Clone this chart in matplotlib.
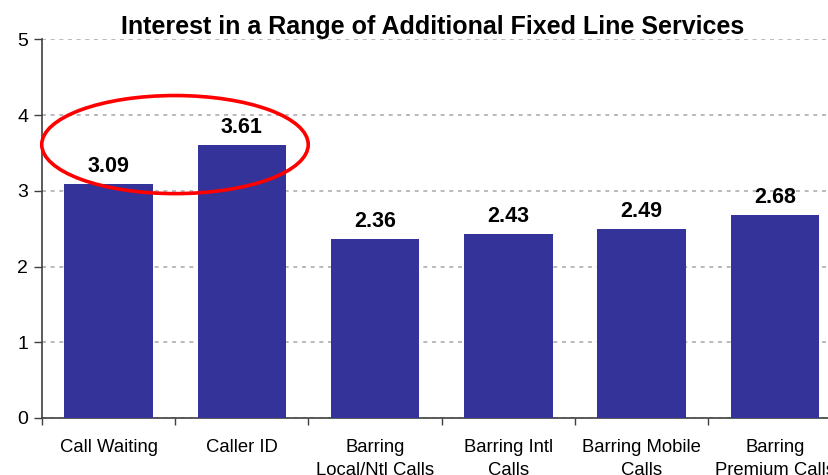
import matplotlib
matplotlib.use("Agg")
import matplotlib.pyplot as plt
from matplotlib.patches import Ellipse
from matplotlib.ticker import FixedLocator

categories = ["Call Waiting", "Caller ID", "Barring\nLocal/Ntl Calls",
              "Barring Intl\nCalls", "Barring Mobile\nCalls", "Barring\nPremium Calls"]
values = [3.09, 3.61, 2.36, 2.43, 2.49, 2.68]
yticks = [0, 1, 2, 3, 4, 5]
title = "Interest in a Range of Additional Fixed Line Services"

plt.rcParams["font.family"] = ["Liberation Sans", "DejaVu Sans"]

fig = plt.figure(figsize=(8.29, 4.75), dpi=100)
ax = fig.add_axes([42 / 829, 1 - 418 / 475, 799.5 / 829, 378.7 / 475])

x = list(range(len(categories)))
ax.bar(x, values, width=0.666, color="#333399", zorder=3)

for xi, v in zip(x, values):
    ax.annotate(f"{v:.2f}", (xi, v), xytext=(0, 12), textcoords="offset pixels",
                ha="center", va="baseline", fontsize=15.5, fontweight="bold",
                color="black", zorder=4)

ax.set_xlim(-0.5, len(categories) - 0.5)
ax.set_ylim(0, 5)
ax.set_yticks(yticks)
ax.set_yticklabels([str(t) for t in yticks], fontsize=14)

ax.set_xticks(x)
ax.set_xticklabels(categories, fontsize=13.3, linespacing=1.45)
ax.tick_params(axis="x", which="major", length=0, pad=15)
ax.xaxis.set_minor_locator(FixedLocator([i + 0.5 for i in range(-1, len(categories))]))
ax.tick_params(axis="x", which="minor", length=5, width=1, color="#404040", direction="out")
ax.tick_params(axis="y", length=6, width=1, color="#404040", pad=4, direction="out")

ax.grid(axis="y", color="#b4b4b4", linestyle=(0, (2.2, 2.6)), linewidth=1.3, zorder=0)
for side in ("top", "right"):
    ax.spines[side].set_visible(False)
for side in ("left", "bottom"):
    ax.spines[side].set_color("#404040")
    ax.spines[side].set_linewidth(1.2)

ax.set_title(title, fontsize=18, fontweight="bold", pad=3, x=(432.5 - 42) / 799.5)

# highlight the two leading services
ax.add_patch(Ellipse((0.498, 3.61), 2.0, 1.295, fill=False, edgecolor="#ff0000",
                     linewidth=2.6, zorder=5, clip_on=False))

fig.savefig("out.png", dpi=100)
